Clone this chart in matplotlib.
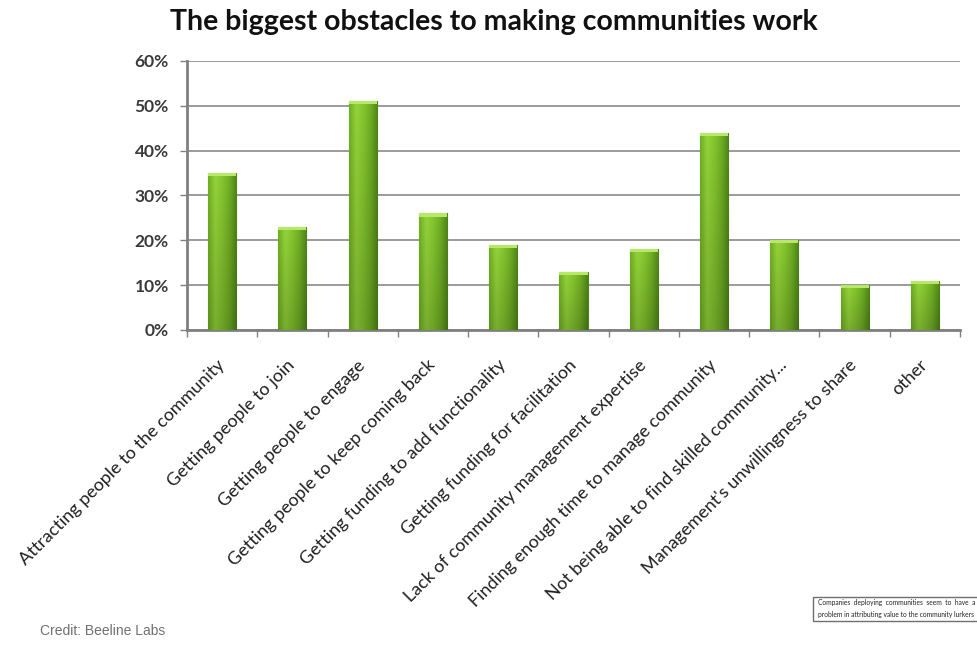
import matplotlib
matplotlib.use("Agg")
import matplotlib.pyplot as plt
import numpy as np
from matplotlib.colors import to_rgb
from matplotlib.patches import Rectangle
from matplotlib.transforms import ScaledTranslation

categories = [
    "Attracting people to the community",
    "Getting people to join",
    "Getting people to engage",
    "Getting people to keep coming back",
    "Getting funding to add functionality",
    "Getting funding for facilitation",
    "Lack of community management expertise",
    "Finding enough time to manage community",
    "Not being able to find skilled community...",
    "Management's unwillingness to share",
    "other",
]
values = [35, 23, 51, 26, 19, 13, 18, 44, 20, 10, 11]
yticks = [0, 10, 20, 30, 40, 50, 60]
ytick_labels = ["0%", "10%", "20%", "30%", "40%", "50%", "60%"]

plt.rcParams['font.family'] = ['Lato', 'DejaVu Sans']

W, H = 977, 647
fig = plt.figure(figsize=(W / 100, H / 100), dpi=100)
ax = fig.add_axes([187 / W, 1 - 330 / H, (960 - 187) / W, (330 - 61) / H])

x = np.arange(len(categories))
bars = ax.bar(x, values, width=0.4, color="#6aa823", edgecolor="#4f7f18",
              linewidth=0.8, zorder=3)

# horizontal shading profile (left -> right) and vertical darkening
stops = [to_rgb(c) for c in ["#6fae22", "#94d43a", "#84c52e", "#6fae24", "#4f8516"]]
pos = np.linspace(0, 1, len(stops))
cols = np.linspace(0, 1, 64)
row = np.stack([np.interp(cols, pos, [s[i] for s in stops]) for i in range(3)], axis=-1)
vert = np.linspace(1.0, 0.82, 64)[:, None, None]
img = np.clip(row[None, :, :] * vert, 0, 1)

for b in bars:
    x0, y0 = b.get_x(), b.get_y()
    w, h = b.get_width(), b.get_height()
    im = ax.imshow(img, extent=[x0, x0 + w, y0, y0 + h], origin="upper",
                   aspect="auto", zorder=3.5, interpolation="bicubic")
    im.set_clip_path(b)
    cap = Rectangle((x0, y0 + h - 0.7), w, 0.7, facecolor="#b8e86a",
                    edgecolor="none", zorder=3.6)
    ax.add_patch(cap)

ax.set_xlim(-0.5, len(categories) - 0.5)
ax.set_ylim(0, 60)
ax.set_yticks(yticks)
ax.set_yticklabels(ytick_labels, fontsize=12.5, fontweight="bold", color="#3a3a3a")
ax.yaxis.grid(True, color="#8a8a8a", linewidth=1.2, zorder=0)
ax.set_axisbelow(True)

ax.set_xticks(x)
ax.set_xticklabels(categories, rotation=45, ha="right", va="center",
                   rotation_mode="anchor", fontsize=13, color="#202020")
ax.tick_params(axis="x", length=0, pad=12)
off = ScaledTranslation(0 / 100, -16 / 100, fig.dpi_scale_trans)
for lab in ax.get_xticklabels():
    lab.set_transform(lab.get_transform() + off)
ax.set_xticks(np.arange(-0.5, len(categories), 1), minor=True)
ax.tick_params(axis="x", which="minor", length=5, color="#808080", width=1)
ax.tick_params(axis="y", length=5, color="#808080", width=1, pad=8)

for s in ["top", "right"]:
    ax.spines[s].set_visible(False)
for s in ["left", "bottom"]:
    ax.spines[s].set_color("#808080")
    ax.spines[s].set_linewidth(2)

fig.text(494 / W, 1 - 22 / H, "The biggest obstacles to making communities work",
         ha="center", va="center", fontsize=20.5, fontweight="bold", color="#111111")

fig.text(40 / W, 1 - 631 / H, "Credit: Beeline Labs", ha="left", va="center",
         fontsize=10, color="#707070", family=["Liberation Sans", "DejaVu Sans"])

box = Rectangle((813 / W, 1 - 621 / H), (990 - 813) / W, 24 / H,
                transform=fig.transFigure, facecolor="white",
                edgecolor="#707070", linewidth=1.0)
fig.patches.append(box)
fig.text(818 / W, 1 - 603 / H,
         "Companies  deploying  communities  seem  to  have  a",
         ha="left", va="center", fontsize=4.8, color="#222222")
fig.text(818 / W, 1 - 614 / H,
         "problem in attributing value to the community lurkers",
         ha="left", va="center", fontsize=4.8, color="#222222")

fig.savefig("out.png", dpi=100, facecolor="white")
